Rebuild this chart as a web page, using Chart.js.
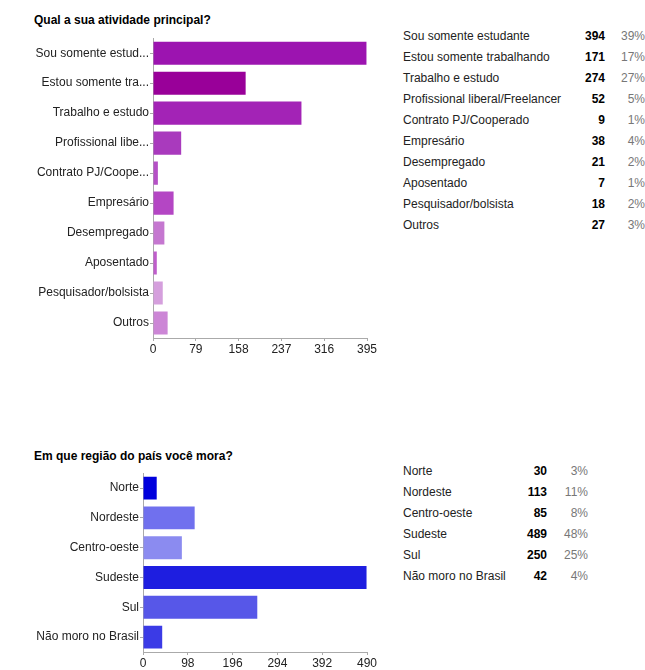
<!DOCTYPE html>
<html>
<head>
<meta charset="utf-8">
<script src="https://cdn.jsdelivr.net/npm/chart.js@4"></script>
<style>
  html, body { margin: 0; padding: 0; background: #fff; overflow: hidden; }
  body { width: 645px; height: 670px; position: relative; font-family: Arial, "Liberation Sans", sans-serif; font-size: 12px; color: #222; }
  .title { position: absolute; left: 34px; font-weight: bold; color: #000; line-height: 14px; white-space: nowrap; }
  .cell { position: absolute; line-height: 14px; white-space: nowrap; }
  .num { font-weight: bold; color: #000; text-align: right; }
  .pct { color: #777; text-align: right; }
  canvas { position: absolute; left: 0; }
</style>
</head>
<body>
<div class="title" style="top:13px">Qual a sua atividade principal?</div>
<div class="title" style="top:449px">Em que região do país você mora?</div>
<canvas id="chartAtividade" width="380" height="338" style="top:30px"></canvas>
<canvas id="chartRegiao" width="380" height="205" style="top:465px"></canvas>
<div id="tables"></div>
<script>
// Qual a sua atividade principal?
const atividadeNames = [
  "Sou somente estudante", "Estou somente trabalhando", "Trabalho e estudo",
  "Profissional liberal/Freelancer", "Contrato PJ/Cooperado", "Empresário",
  "Desempregado", "Aposentado", "Pesquisador/bolsista", "Outros",
];
const atividadeTicks = [
  "Sou somente estud...", "Estou somente tra...", "Trabalho e estudo",
  "Profissional libe...", "Contrato PJ/Coope...", "Empresário",
  "Desempregado", "Aposentado", "Pesquisador/bolsista", "Outros",
];
const atividadeCounts = [394, 171, 274, 52, 9, 38, 21, 7, 18, 27];
const atividadePct = ["39%", "17%", "27%", "5%", "1%", "4%", "2%", "1%", "2%", "3%"];
const atividadeAxis = [0, 79, 158, 237, 316, 395];
const atividadeColors = [
  "#9c14b0", "#990099", "#a323b6", "#a93abd", "#b550c6",
  "#b446c4", "#c577d0", "#bf5dcb", "#d59fdd", "#cc86d6",
];

// Em que região do país você mora?
const regiaoNames = ["Norte", "Nordeste", "Centro-oeste", "Sudeste", "Sul", "Não moro no Brasil"];
const regiaoCounts = [30, 113, 85, 489, 250, 42];
const regiaoPct = ["3%", "11%", "8%", "48%", "25%", "4%"];
const regiaoAxis = [0, 98, 196, 294, 392, 490];
const regiaoColors = ["#0000dd", "#7070ee", "#8b8bf0", "#1e1ee0", "#5757e8", "#3b3be6"];

const FONT = { family: "Arial, 'Liberation Sans', sans-serif", size: 12 };

function barChart(id, ticks, counts, colors, axis, yWidth) {
  return new Chart(document.getElementById(id), {
    type: "bar",
    data: {
      labels: ticks,
      datasets: [{
        data: counts,
        backgroundColor: colors,
        borderWidth: 0,
        barPercentage: 0.77,
        categoryPercentage: 1,
      }],
    },
    options: {
      indexAxis: "y",
      responsive: false,
      animation: false,
      layout: { padding: { top: 8, right: 13, left: 0, bottom: 0 } },
      plugins: { legend: { display: false }, tooltip: { enabled: false } },
      scales: {
        x: {
          min: 0,
          max: axis[axis.length - 1],
          afterBuildTicks: (s) => { s.ticks = axis.map((v) => ({ value: v })); },
          afterFit: (s) => { s.height = id === "chartRegiao" ? 18 : 30; },
          ticks: { color: "#222", font: FONT, padding: 1, maxRotation: 0 },
          grid: { display: true, drawOnChartArea: false, drawTicks: true, tickLength: 3, color: "#aaa" },
          border: { color: "#aaa" },
        },
        y: {
          afterFit: (s) => { s.width = yWidth; },
          ticks: { color: "#222", font: FONT, padding: 1, autoSkip: false },
          grid: { display: true, drawOnChartArea: false, drawTicks: true, tickLength: 3, color: "#aaa", offset: false },
          border: { color: "#aaa" },
        },
      },
    },
  });
}

barChart("chartAtividade", atividadeTicks, atividadeCounts, atividadeColors, atividadeAxis, 153);
barChart("chartRegiao", regiaoNames, regiaoCounts, regiaoColors, regiaoAxis, 143);

function table(names, counts, pcts, top, numRight, pctRight) {
  const box = document.getElementById("tables");
  names.forEach((name, i) => {
    const y = top + i * 21 - 7;
    box.insertAdjacentHTML("beforeend",
      `<div class="cell" style="left:403px;top:${y}px">${name}</div>` +
      `<div class="cell num" style="left:${numRight - 50}px;width:50px;top:${y}px">${counts[i]}</div>` +
      `<div class="cell pct" style="left:${pctRight - 40}px;width:40px;top:${y}px">${pcts[i]}</div>`);
  });
}

table(atividadeNames, atividadeCounts, atividadePct, 36, 605, 645);
table(regiaoNames, regiaoCounts, regiaoPct, 471, 547, 588);
</script>
</body>
</html>
